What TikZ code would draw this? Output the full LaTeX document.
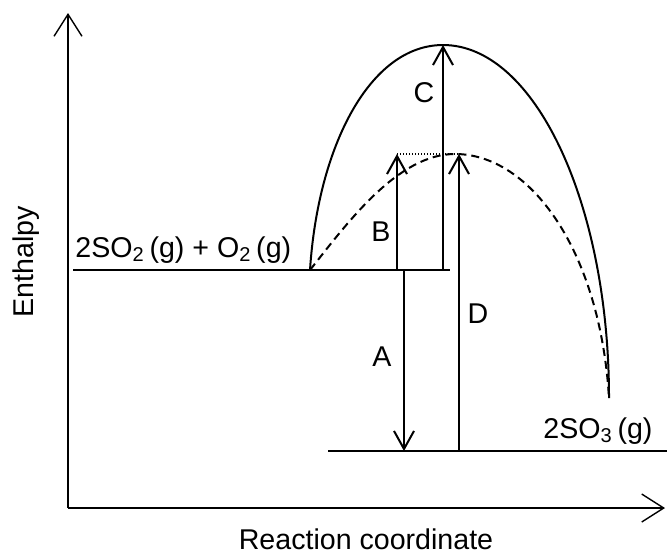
\documentclass[tikz,border=0pt]{standalone}
\usepackage{fontspec}
\setmainfont{Liberation Sans}
\usetikzlibrary{arrows.meta}
\tikzstyle{txt} = [font=\fontsize{14.3}{17}\selectfont, inner sep=0pt]
\tikzstyle{level} = [line width=1pt]
\tikzstyle{gap} = [line width=1pt, -{Straight Barb[length=9pt,width=10pt,line width=1pt]}]
\tikzstyle{axis} = [line width=0.65pt, -{Straight Barb[length=11pt,width=14pt,line width=0.7pt]}]

\begin{document}
\begin{tikzpicture}[x=0.5pt, y=-0.5pt]
        \useasboundingbox (0,0) rectangle (667,554);

        % 坐标
        \coordinate (origin) at (68,508);
        \coordinate (ytop) at (68,13);
        \coordinate (xend) at (665,508);
        \coordinate (R1) at (73,270);
        \coordinate (R2) at (450,270);
        \coordinate (P1) at (328,451);
        \coordinate (P2) at (667,451);
        \coordinate (start) at (310,270);
        \coordinate (peak) at (443,45);
        \coordinate (cpeak) at (455,154);
        \coordinate (finish) at (609,398);
        \coordinate (Bs) at (397,270);
        \coordinate (Bt) at (397,154);
        \coordinate (Cs) at (443,270);
        \coordinate (As) at (404,270);
        \coordinate (At) at (404,451);
        \coordinate (Ds) at (459,451);
        \coordinate (Dt) at (459,154);

        % 文字
        \node [txt, anchor=base west] (react) at (75,257) {2SO\textsubscript{2}\,(g) + O\textsubscript{2}\,(g)};
        \node [txt, anchor=base west] (prod) at (543,438) {2SO\textsubscript{3}\,(g)};
        \node [txt, anchor=base] (xlab) at (366,549) {Reaction coordinate};
        \node [txt, anchor=base, rotate=90] (ylab) at (33,262) {Enthalpy};
        \node [txt] (lA) at (382,357) {A};
        \node [txt] (lB) at (381,232) {B};
        \node [txt] (lC) at (424,93) {C};
        \node [txt] (lD) at (478,314) {D};

        % 坐标轴
        \draw [axis] (origin) -- (ytop);
        \draw [axis] (origin) -- (xend);

        % 能级
        \draw [level] (R1) -- (R2);
        \draw [level] (P1) -- (P2);

        % 曲线
        \draw [level] (start) .. controls (318,146) and (370,45) .. (peak)
                              .. controls (535,45) and (609,204) .. (finish);
        \draw [level, dash pattern=on 4pt off 2.5pt] (start) .. controls (348,222) and (398,154) .. (cpeak)
                              .. controls (530,154) and (600,250) .. (finish);

        % 能量差
        \draw [line width=0.6pt, dash pattern=on 0.6pt off 0.9pt] (Bt) -- (Dt);
        \draw [gap] (Bs) -- (Bt);
        \draw [gap] (Cs) -- (peak);
        \draw [gap] (As) -- (At);
        \draw [gap] (Ds) -- (Dt);
\end{tikzpicture}
\end{document}
